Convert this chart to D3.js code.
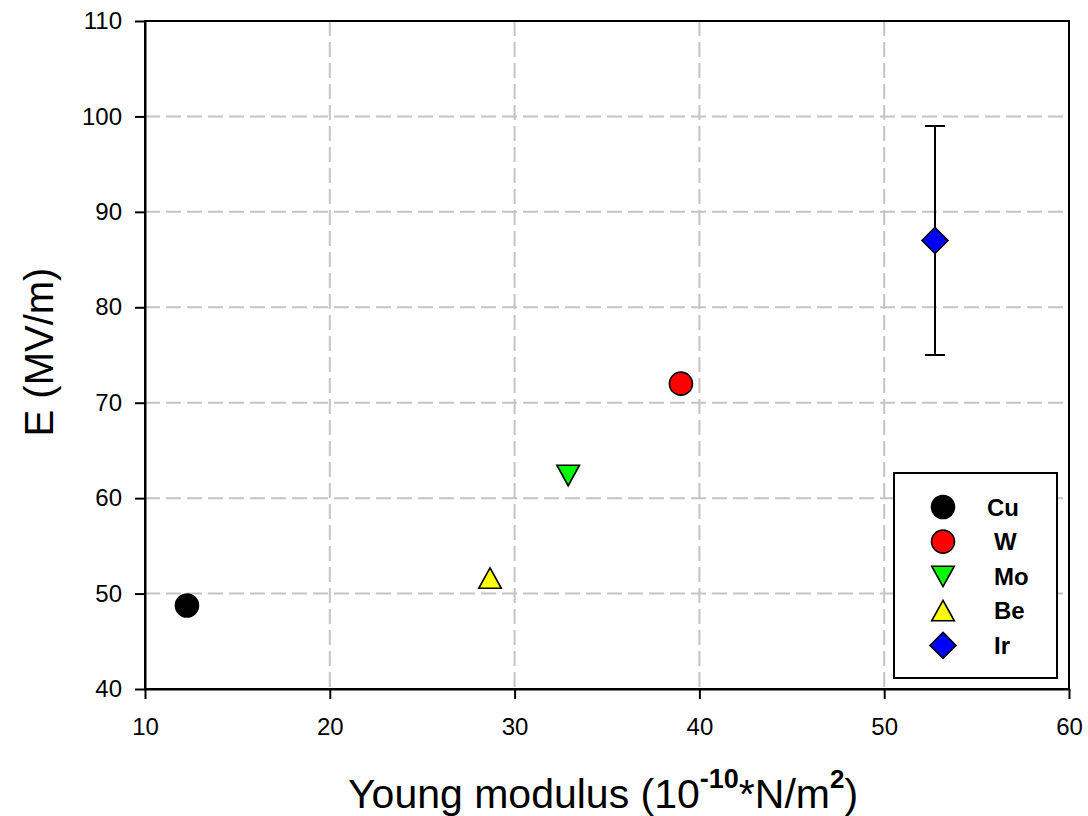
<!DOCTYPE html>
<html><head><meta charset="utf-8">
<script src="https://cdn.jsdelivr.net/npm/d3@7"></script>
<style>body{margin:0;background:#fff}svg{display:block}text{font-family:"Liberation Sans",Arial,sans-serif}</style>
</head><body>
<script>
const names = ["Cu","W","Mo","Be","Ir"];
const xVals = [12.27, 39.0, 32.9, 28.67, 52.75];
const yVals = [48.75, 72.0, 62.4, 51.6, 87.0];
const errLow = [null, null, null, null, 75];
const errHigh = [null, null, null, null, 99];
const fills = ["#000000","#ff0000","#00ff00","#ffff00","#0000ff"];
const shapes = ["circle","circle","triDown","triUp","diamond"];
const xTicks = [10,20,30,40,50,60];
const yTicks = [40,50,60,70,80,90,100,110];

const W = 1088, H = 816;
const m = {l:145, r:1069, t:21, b:689};
const svg = d3.select("body").append("svg").attr("width",W).attr("height",H);
const x = d3.scaleLinear().domain([10,60]).range([m.l,m.r]);
const y = d3.scaleLinear().domain([40,110]).range([m.b,m.t]);
const FONT = "Liberation Sans, Arial, sans-serif";

// grid
const g = svg.append("g");
g.selectAll(".gx").data(xTicks.slice(1,-1)).join("line")
  .attr("x1",d=>x(d)).attr("x2",d=>x(d)).attr("y1",m.t).attr("y2",m.b)
  .attr("stroke","#c4c4c4").attr("stroke-width",2).attr("stroke-dasharray","15,6");
g.selectAll(".gy").data(yTicks.slice(1,-1)).join("line")
  .attr("x1",m.l).attr("x2",m.r).attr("y1",d=>y(d)).attr("y2",d=>y(d))
  .attr("stroke","#c4c4c4").attr("stroke-width",2).attr("stroke-dasharray","15,6");

// frame
svg.append("rect").attr("x",m.l).attr("y",m.t).attr("width",m.r-m.l).attr("height",m.b-m.t)
  .attr("fill","none").attr("stroke","#000").attr("stroke-width",2);

const xa = svg.append("g").attr("transform",`translate(0,${m.b})`)
  .call(d3.axisBottom(x).tickValues(xTicks).tickSize(10).tickPadding(19).tickSizeOuter(0).tickFormat(d3.format("d")));
const ya = svg.append("g").attr("transform",`translate(${m.l},0)`)
  .call(d3.axisLeft(y).tickValues(yTicks).tickSize(10).tickPadding(13).tickSizeOuter(0).tickFormat(d3.format("d")));
[xa,ya].forEach(a=>{
  a.attr("font-size",24).attr("font-family",FONT);
  a.select(".domain").attr("stroke","#000").attr("stroke-width",2);
  a.selectAll(".tick line").attr("stroke","#000").attr("stroke-width",2);
  a.selectAll(".tick text").attr("fill","#000");
});

// error bars
names.forEach((n,i)=>{
  if(errLow[i]==null) return;
  const cx = x(xVals[i]);
  svg.append("line").attr("x1",cx).attr("x2",cx).attr("y1",y(errLow[i])).attr("y2",y(errHigh[i])).attr("stroke","#000").attr("stroke-width",2);
  [errLow[i],errHigh[i]].forEach(v=>svg.append("line").attr("x1",cx-10).attr("x2",cx+10).attr("y1",y(v)).attr("y2",y(v)).attr("stroke","#000").attr("stroke-width",2));
});

function marker(sel, shape, fill){
  if(shape==="circle") sel.append("circle").attr("r",11.5);
  else if(shape==="triUp") sel.append("path").attr("d","M0,-10.5 L11.3,10 L-11.3,10 Z");
  else if(shape==="triDown") sel.append("path").attr("d","M0,10.5 L11.3,-10 L-11.3,-10 Z");
  else if(shape==="diamond") sel.append("path").attr("d","M0,-13 L13,0 L0,13 L-13,0 Z");
  sel.selectAll("*").attr("fill",fill).attr("stroke","#000").attr("stroke-width",1.6);
}
names.forEach((n,i)=>{
  const s = svg.append("g").attr("transform",`translate(${x(xVals[i])},${y(yVals[i])})`);
  marker(s, shapes[i], fills[i]);
});

// legend
svg.append("rect").attr("x",894).attr("y",473).attr("width",163).attr("height",205)
  .attr("fill","#fff").attr("stroke","#000").attr("stroke-width",2);
names.forEach((n,i)=>{
  const ly = 507 + i*34.6;
  const s = svg.append("g").attr("transform",`translate(943,${ly})`);
  marker(s, shapes[i], fills[i]);
  svg.append("text").attr("x", i===0?987:994).attr("y",ly).attr("dy","0.36em")
    .attr("font-size",24).attr("font-weight","bold").text(n);
});

// titles
const xt = svg.append("text").attr("x",348).attr("y",808).attr("text-anchor","start").attr("font-size",41);
xt.append("tspan").text("Young modulus (10");
xt.append("tspan").attr("dy",-20).attr("font-size",27).attr("font-weight","bold").text("-10");
xt.append("tspan").attr("dy",20).text("*N/m");
xt.append("tspan").attr("dy",-20).attr("font-size",26).attr("font-weight","bold").text("2");
xt.append("tspan").attr("dy",20).text(")");

svg.append("text").attr("transform","translate(53,352) rotate(-90)").attr("text-anchor","middle")
  .attr("font-size",40).text("E (MV/m)");
</script>
</body></html>
